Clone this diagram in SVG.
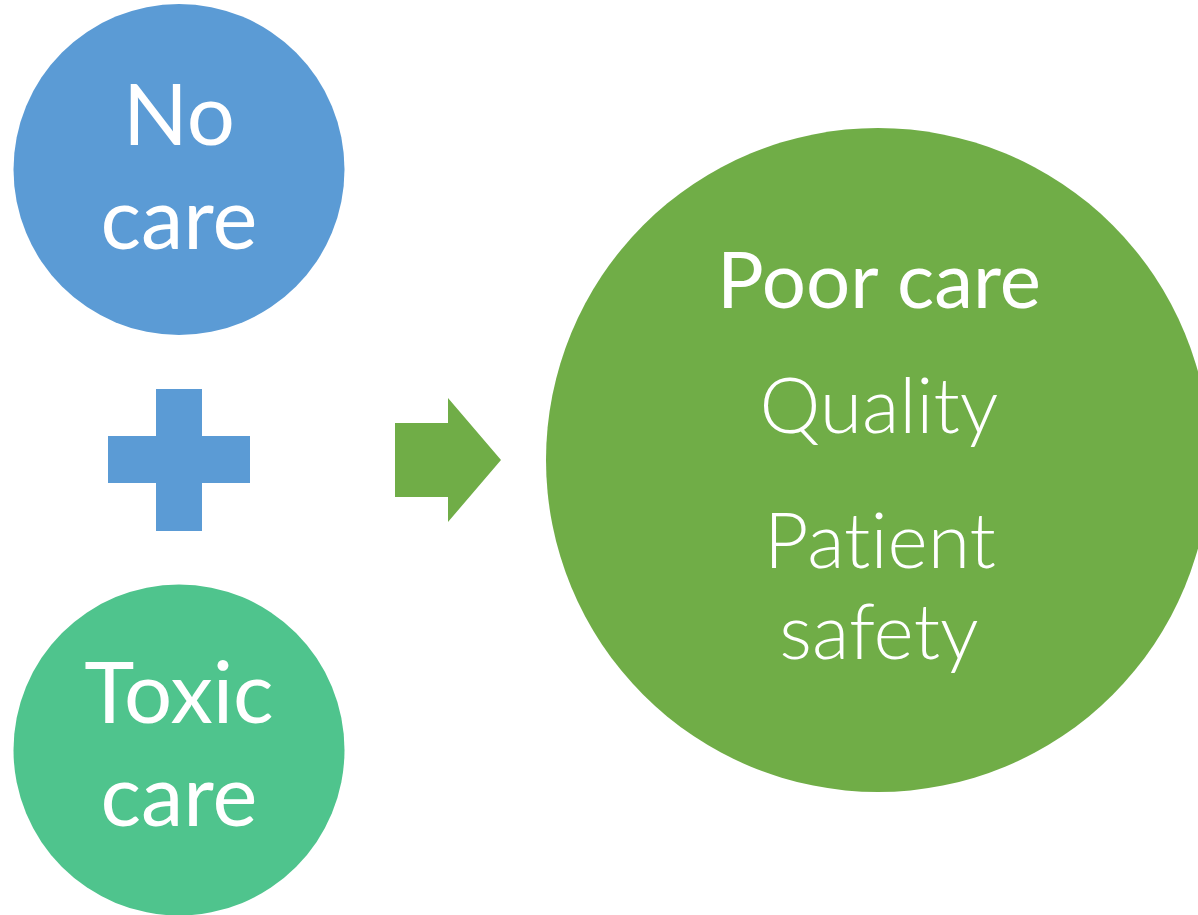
<svg xmlns="http://www.w3.org/2000/svg" width="1198" height="915" viewBox="0 0 1198 915">
<style>
.t{font-family:Lato,"Open Sans","Liberation Sans",sans-serif;fill:#fff;text-anchor:middle;font-variant-ligatures:none;font-feature-settings:"liga" 0,"dlig" 0}
.r{font-weight:400}
.l{font-weight:300}
</style>
<rect width="1198" height="915" fill="#fff"/>
<g id="no-care">
<circle cx="179" cy="169.5" r="165.5" fill="#5B9BD5"/>
<text class="t r" x="179" y="145" font-size="85">No</text>
<text class="t r" x="179" y="249" font-size="85">care</text>
</g>
<g id="plus">
<rect x="156" y="389" width="46" height="142" fill="#5B9BD5"/>
<rect x="108" y="436" width="142" height="47" fill="#5B9BD5"/>
</g>
<g id="toxic-care">
<circle cx="179" cy="750" r="165.5" fill="#4FC48D"/>
<text class="t r" x="179" y="723" font-size="85">Toxic</text>
<text class="t r" x="179" y="826" font-size="85">care</text>
</g>
<g id="connectors">
<polygon points="395,423 448,423 448,398 501,460 448,522 448,497 395,497" fill="#70AD47"/>
</g>
<g id="poor-care">
<circle cx="878" cy="460" r="332" fill="#70AD47"/>
<text class="t r" x="879" y="308" font-size="78">Poor care</text>
<text class="t l" x="879" y="433" font-size="77">Quality</text>
<text class="t l" x="880" y="568" font-size="77">Patient</text>
<text class="t l" x="879" y="659" font-size="77">safety</text>
</g>
</svg>
